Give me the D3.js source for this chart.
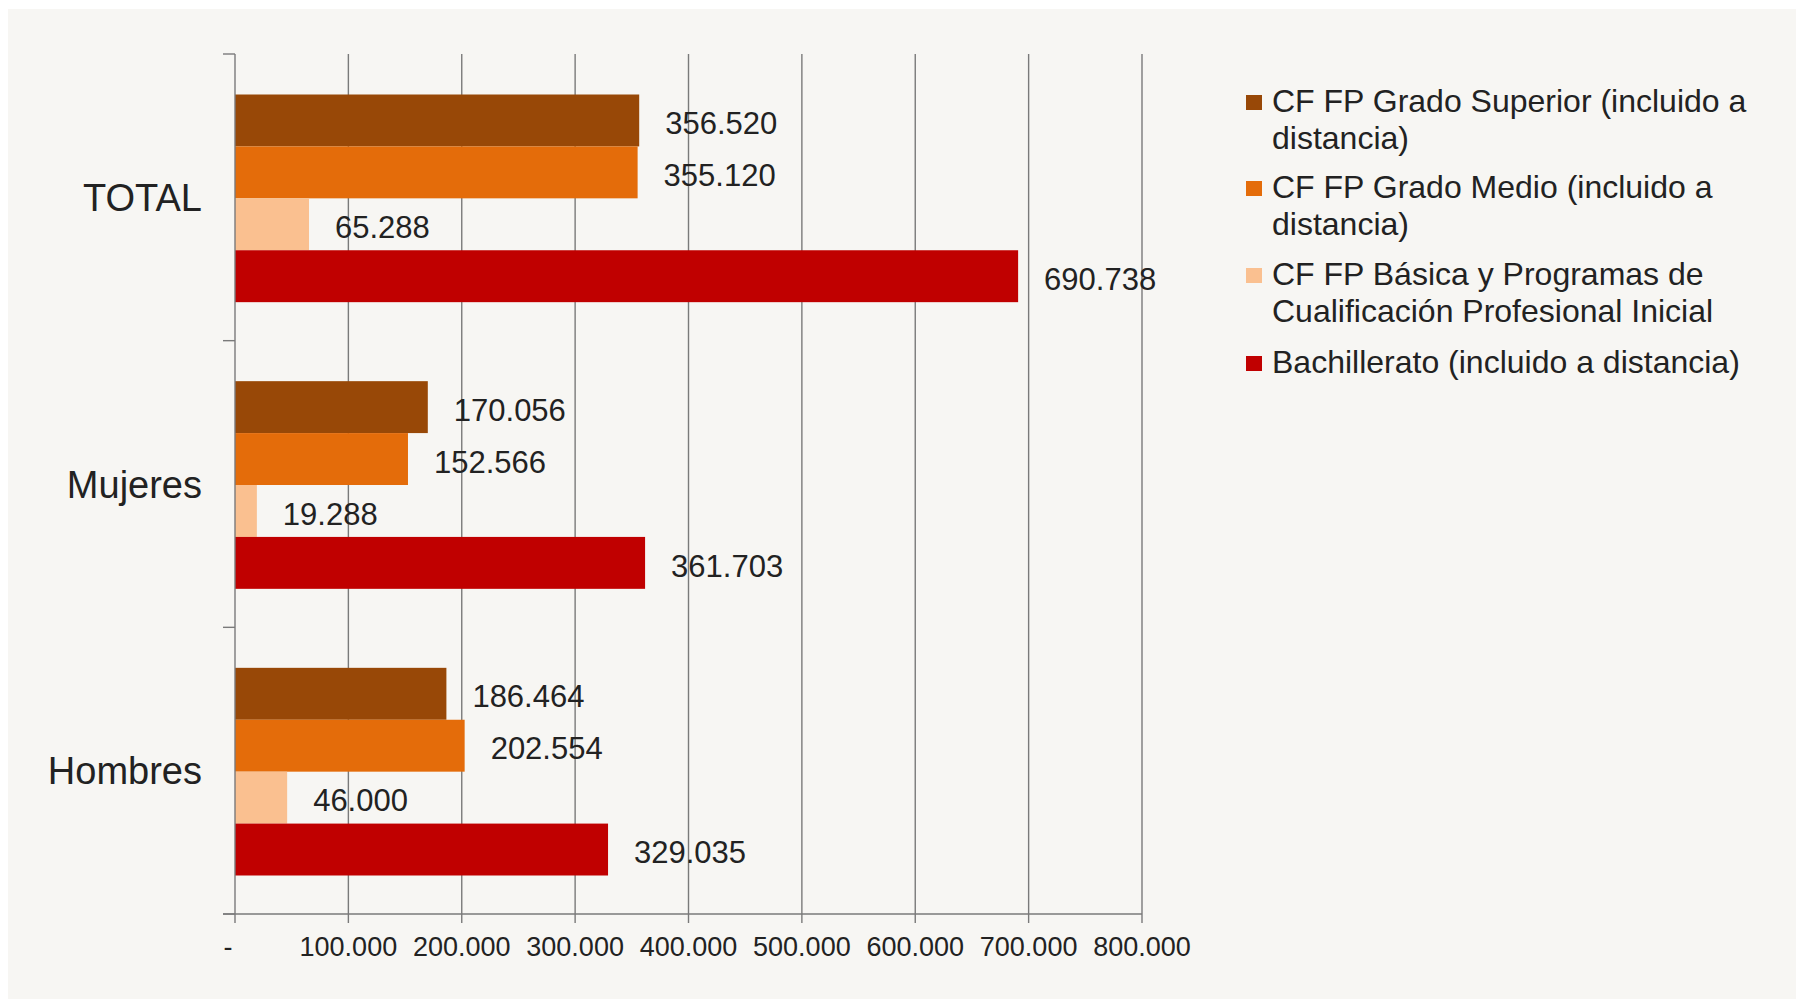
<!DOCTYPE html>
<html>
<head>
<meta charset="utf-8">
<script src="https://cdn.jsdelivr.net/npm/d3@7"></script>
<style>
  html, body { margin: 0; padding: 0; background: #ffffff; }
  #CHART { width: 1796px; height: 999px; overflow: hidden; }
  text { font-family: "Liberation Sans", Arial, sans-serif; fill: #222; }
</style>
</head>
<body>
<div id="CHART"></div>
<script>
// ------------------------- data ------------------------//

var categories = ["TOTAL", "Mujeres", "Hombres"];

var series = [
  "CF FP Grado Superior (incluido a distancia)",
  "CF FP Grado Medio (incluido a distancia)",
  "CF FP Básica y Programas de Cualificación Profesional Inicial",
  "Bachillerato (incluido a distancia)"
];

// legend labels wrapped like the original
var legendLines = [
  ["CF FP Grado Superior (incluido a", "distancia)"],
  ["CF FP Grado Medio (incluido a", "distancia)"],
  ["CF FP Básica y Programas de", "Cualificación Profesional Inicial"],
  ["Bachillerato (incluido a distancia)"]
];

var gradoSuperior = [356520, 170056, 186464];
var gradoMedio = [355120, 152566, 202554];
var basica = [65288, 19288, 46000];
var bachillerato = [690738, 361703, 329035];

var xTicks = [0, 100000, 200000, 300000, 400000, 500000, 600000, 700000, 800000];

var colors = ["#984807", "#e46c0a", "#fac090", "#c00000"];

// ------------------------- svg init ------------------------//

var width = 1796,
  height = 999;

var svg = d3.select("#CHART").append("svg")
  .attr("width", width)
  .attr("height", height);

// page background, white strip on top and left like the screenshot
svg.append("rect")
  .attr("x", 8).attr("y", 9)
  .attr("width", width - 8).attr("height", height - 9)
  .attr("fill", "#f7f6f3");

var plot = { left: 235, right: 1142, top: 54, bottom: 914 };

var locale = d3.formatLocale({ decimal: ",", thousands: ".", grouping: [3], currency: ["", "€"] });
var fmt = locale.format(",d");

var x = d3.scaleLinear()
  .domain([0, 800000])
  .range([plot.left, plot.right]);

var y0 = d3.scaleBand()
  .domain(categories)
  .range([plot.top, plot.bottom])
  .padding(0);

var bw = y0.bandwidth();

var y1 = d3.scaleBand()
  .domain(series)
  .range([40.5, bw - 38.5])
  .padding(0);

var table = categories.map(function (c, i) {
  return {
    cat: c,
    values: [gradoSuperior[i], gradoMedio[i], basica[i], bachillerato[i]].map(function (v, j) {
      return { key: series[j], value: v, idx: j };
    })
  };
});

// ---------------------------- grid ------------------------//

svg.append("g")
  .attr("class", "grid")
  .selectAll("line")
  .data(xTicks.slice(1))
  .enter()
  .append("line")
  .attr("x1", function (d) { return x(d); })
  .attr("x2", function (d) { return x(d); })
  .attr("y1", plot.top)
  .attr("y2", plot.bottom + 9)
  .attr("stroke", "#7a7a7a")
  .attr("stroke-width", 1.4);

// ---------------------------- bars ------------------------//

var groups = svg.selectAll(".cat")
  .data(table)
  .enter()
  .append("g")
  .attr("class", "cat")
  .attr("transform", function (d) { return "translate(0," + y0(d.cat) + ")"; });

groups.selectAll("rect")
  .data(function (d) { return d.values; })
  .enter()
  .append("rect")
  .attr("x", x(0))
  .attr("y", function (d) { return y1(d.key); })
  .attr("width", function (d) { return x(d.value) - x(0); })
  .attr("height", y1.bandwidth())
  .attr("fill", function (d) { return colors[d.idx]; });

groups.selectAll(".val")
  .data(function (d) { return d.values; })
  .enter()
  .append("text")
  .attr("class", "val")
  .attr("x", function (d) { return x(d.value) + 26; })
  .attr("y", function (d) { return y1(d.key) + y1.bandwidth() / 2; })
  .attr("dy", "0.44em")
  .style("font-size", "31px")
  .text(function (d) { return fmt(d.value); });

// ---------------------------- axes ------------------------//

var axisColor = "#7a7a7a";

svg.append("line")
  .attr("x1", x(0)).attr("x2", x(0))
  .attr("y1", plot.top).attr("y2", plot.bottom + 9)
  .attr("stroke", axisColor).attr("stroke-width", 1.4);

svg.append("line")
  .attr("x1", x(0) - 12).attr("x2", plot.right)
  .attr("y1", plot.bottom).attr("y2", plot.bottom)
  .attr("stroke", axisColor).attr("stroke-width", 1.4);

// category ticks at band edges
var edges = categories.map(function (c) { return y0(c); }).concat([plot.bottom]);
svg.append("g")
  .selectAll("line")
  .data(edges)
  .enter()
  .append("line")
  .attr("x1", x(0) - 12).attr("x2", x(0))
  .attr("y1", function (d) { return d; })
  .attr("y2", function (d) { return d; })
  .attr("stroke", axisColor).attr("stroke-width", 1.4);

svg.append("g")
  .selectAll("text")
  .data(categories)
  .enter()
  .append("text")
  .attr("x", 202)
  .attr("y", function (d) { return y0(d) + bw / 2; })
  .attr("dy", "0.36em")
  .attr("text-anchor", "end")
  .style("font-size", "38px")
  .text(function (d) { return d; });

svg.append("g")
  .selectAll("text")
  .data(xTicks)
  .enter()
  .append("text")
  .attr("x", function (d) { return d === 0 ? x(d) - 7 : x(d); })
  .attr("y", 956)
  .attr("text-anchor", "middle")
  .style("font-size", "27px")
  .text(function (d) { return d === 0 ? "-" : fmt(d); });

// ---------------------------- legend ------------------------//

var legendTop = [112, 198, 285, 373];

var legend = svg.selectAll(".legend")
  .data(series)
  .enter()
  .append("g")
  .attr("class", "legend")
  .attr("transform", function (d, i) { return "translate(1246," + legendTop[i] + ")"; });

legend.append("rect")
  .attr("x", 0)
  .attr("y", -17)
  .attr("width", 16)
  .attr("height", 15)
  .attr("fill", function (d, i) { return colors[i]; });

legend.each(function (d, i) {
  var t = d3.select(this).append("text")
    .attr("x", 26)
    .attr("y", 0)
    .style("font-size", "32px");
  legendLines[i].forEach(function (line, k) {
    t.append("tspan")
      .attr("x", 26)
      .attr("dy", k === 0 ? 0 : 37)
      .text(line);
  });
});
</script>
</body>
</html>
